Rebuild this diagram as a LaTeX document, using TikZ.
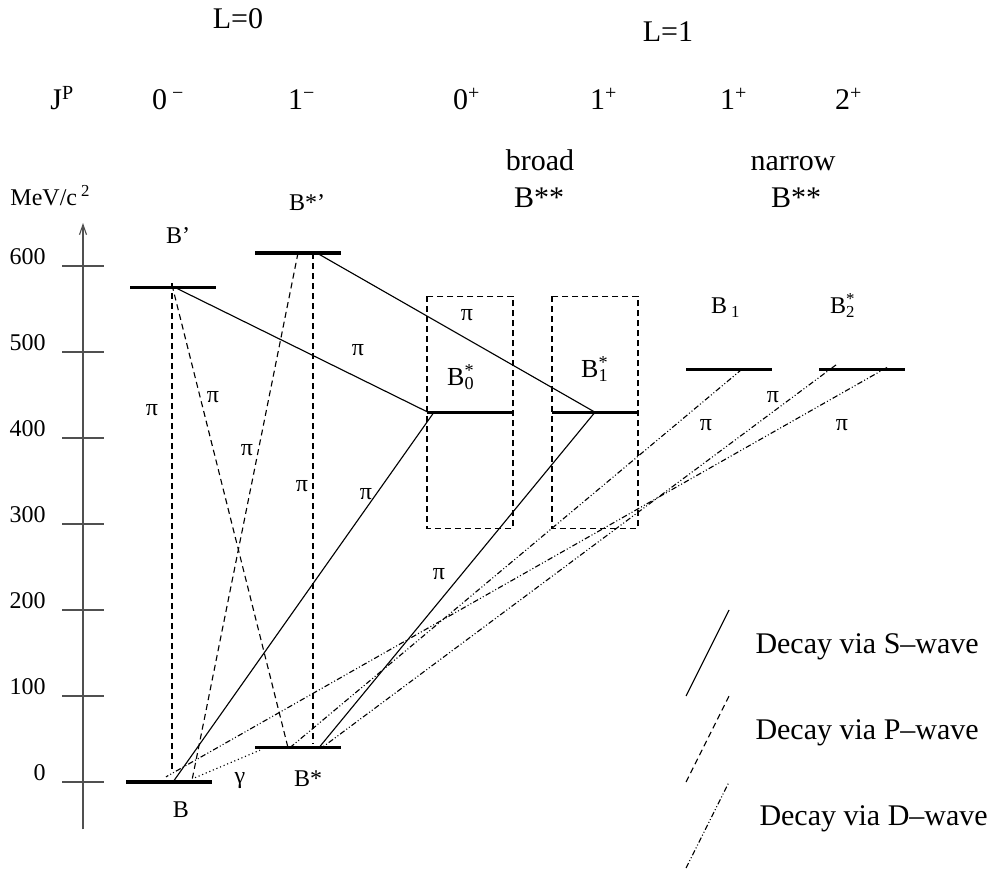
\documentclass[tikz,border=0pt]{standalone}
\usepackage{fontspec}
\setmainfont{Liberation Serif}
\usepackage{tikz}
\usetikzlibrary{calc,arrows.meta}
\definecolor{axc}{HTML}{505050}
\tikzset{
  lvl/.style={line width=1.3pt},
  sw/.style={line width=0.45pt},
  pw/.style={line width=0.45pt,dash pattern=on 2.4pt off 1.6pt},
  dw/.style={line width=0.45pt,dash pattern=on 2.2pt off 0.9pt on 0.4pt off 0.9pt on 0.4pt off 0.9pt},
  gw/.style={line width=0.45pt,dash pattern=on 0.45pt off 1.1pt},
  big/.style={font=\fontsize{12}{14}\selectfont,inner sep=0pt},
  sml/.style={font=\fontsize{9.6}{11}\selectfont,inner sep=0pt},
  mid/.style={font=\fontsize{10.4}{12}\selectfont,inner sep=0pt}
}

\begin{document}
\begin{tikzpicture}[x=0.4pt,y=0.344pt]
\useasboundingbox (0,-101.2) rectangle (993,909.3);
% energy axis
\coordinate (ax0) at (83,-55);
\coordinate (ax1) at (83,650);
\draw[axc,line width=0.45pt,-{Straight Barb[length=4pt,width=2.8pt]}] (ax0) -- (ax1);
\foreach \e in {0,100,...,600}{\draw[axc,line width=0.45pt] (62,\e) -- (104,\e);
  \node[sml,anchor=base east] (t\e) at (46,{\e+1.5}) {\e};}
\node[sml,anchor=base west] (unit) at (10,669.8) {MeV/c\,\textsuperscript{2}};
% headers
\node[big,anchor=base] (L0) at (238,876.7) {L=0};
\node[big,anchor=base] (L1) at (668,860.5) {L=1};
\node[big,anchor=base] (jp) at (62.5,781.4) {J\textsuperscript{P}};
\foreach \x/\t [count=\i] in {168.5/{0\,\textsuperscript{−}},302/{1\textsuperscript{−}},467/{0\textsuperscript{+}},604/{1\textsuperscript{+}},734/{1\textsuperscript{+}},849/{2\textsuperscript{+}}}
  \node[big,anchor=base] (jp\i) at (\x,781.4) {\t};
\node[big,anchor=base] (brd) at (540,711.6) {broad};
\node[big,anchor=base] (nrw) at (793,711.6) {narrow};
\node[big,anchor=base] (bbs) at (539,668.6) {B**};
\node[big,anchor=base] (nbs) at (796,668.6) {B**};
% levels
\foreach \n/\x/\e in {B/126/0,Bs/255/40,Bp/130/575,Bsp/255/615,Bz/427/430,Bo/552/430,Bn/686/480,Bt/819/480}
  \draw[lvl] (\x,\e) coordinate (\n) -- ++(86,0);
\node[sml,anchor=base] (nB) at (181,-40.7) {B};
\node[sml,anchor=base] (nBs) at (308,-5.8) {B*};
\node[sml,anchor=base] (nBp) at (178,626.7) {B’};
\node[sml,anchor=base] (nBsp) at (307,665) {B*’};
\node[mid,anchor=base] (nBz) at (461,460.5) {B\rlap{\textsuperscript{*}}\textsubscript{0}};
\node[mid,anchor=base] (nBo) at (595,469.8) {B\rlap{\textsuperscript{*}}\textsubscript{1}};
\node[sml,anchor=base] (nBn) at (726,545) {B\,\textsubscript{1}};
\node[sml,anchor=base] (nBt) at (843,545) {B\rlap{\textsuperscript{*}}\textsubscript{2}};
% broad states
\draw[pw] ($(Bz)+(0,135)$) rectangle ($(Bz)+(86,-135)$);
\draw[pw] ($(Bo)+(0,135)$) rectangle ($(Bo)+(86,-135)$);
% S-wave
\draw[sw] ($(Bp)+(45,0)$) -- ($(Bz)+(1,0)$);
\draw[sw] ($(Bsp)+(62,0)$) -- ($(Bo)+(43,0)$);
\draw[sw] ($(B)+(47,0)$) -- ($(Bz)+(7,0)$);
\draw[sw] ($(Bs)+(64,0)$) -- ($(Bo)+(43,0)$);
% P-wave
\draw[pw] ($(Bp)+(42,5)$) -- ($(B)+(46,14)$);
\draw[pw] ($(Bp)+(42,3)$) -- ($(Bs)+(33,0)$);
\draw[pw] ($(Bsp)+(43,0)$) -- ($(B)+(66,2)$);
\draw[pw] ($(Bsp)+(58,0)$) -- ($(Bs)+(58,5)$);
% photon
\draw[gw] ($(B)+(69,5)$) -- ($(Bs)+(5,-3)$);
% D-wave
\draw[dw] ($(Bn)+(56,0)$) -- ($(Bs)+(35,0)$);
\draw[dw] ($(Bt)+(17,5)$) -- ($(Bs)+(67,0)$);
\draw[dw] ($(Bt)+(68,2)$) -- ($(B)+(40,6)$);
% pion labels
\foreach \x/\e [count=\i] in {152/432.6,213/447.7,247/386,302/344.2,366/334.9,358/502.3,467/543,439/241.9,706/415.1,773/447.7,842/415.1}
  \node[sml] (pi\i) at (\x,\e) {π};
\node[sml,anchor=base] (gam) at (240,-2.3) {γ};
% legend
\draw[sw] (686,100) coordinate (lS0) -- (729,200) coordinate (lS1);
\draw[pw] (686,0) coordinate (lP0) -- (729,100) coordinate (lP1);
\draw[dw] (686,-100) coordinate (lD0) -- (729,0) coordinate (lD1);
\node[big,anchor=base west] (lS) at (755,150) {Decay via S–wave};
\node[big,anchor=base west] (lP) at (755,50) {Decay via P–wave};
\node[big,anchor=base west] (lD) at (759,-50) {Decay via D–wave};
\end{tikzpicture}
\end{document}
